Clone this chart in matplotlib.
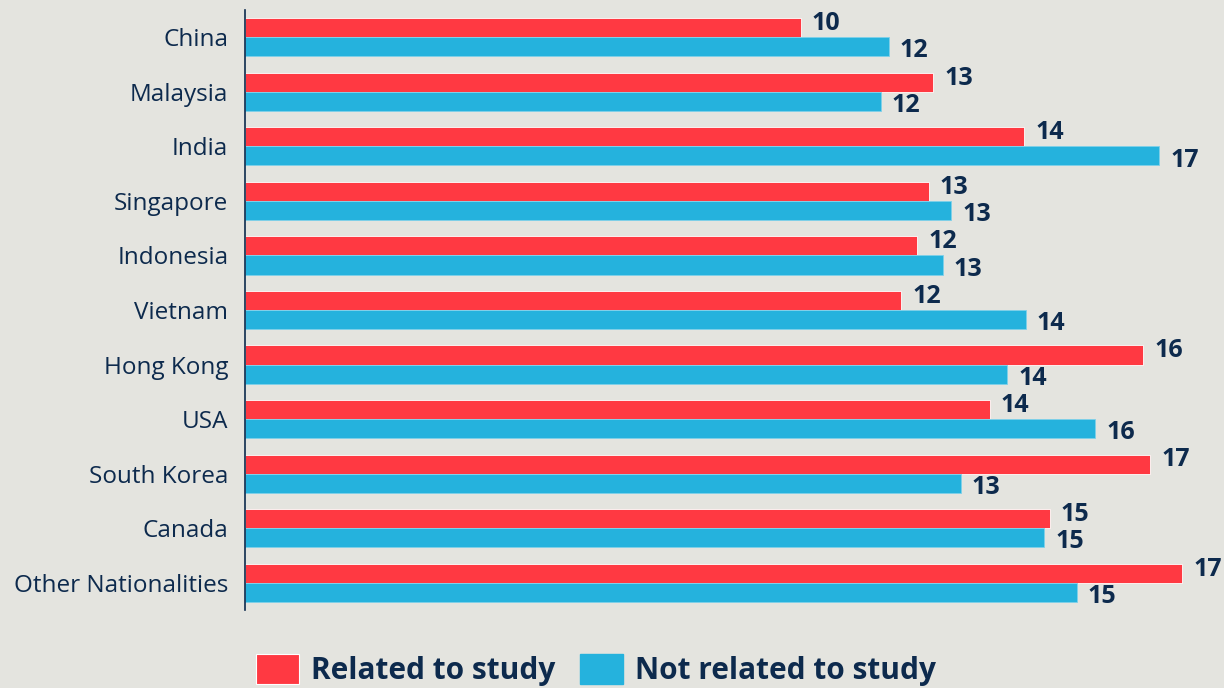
import numpy as np
import matplotlib
matplotlib.use('Agg')
from matplotlib import pyplot as plt
from matplotlib.patches import Patch

countries = ["China", "Malaysia", "India", "Singapore", "Indonesia", "Vietnam",
             "Hong Kong", "USA", "South Korea", "Canada", "Other Nationalities"]
related = [10.18, 12.60, 14.27, 12.52, 12.31, 12.02, 16.45, 13.64, 16.58, 14.74, 17.17]
not_related = [11.79, 11.64, 16.74, 12.93, 12.78, 14.30, 13.96, 15.57, 13.11, 14.64, 15.23]

RED = "#FF3942"
BLUE = "#25B2DD"
NAVY = "#0D2A4D"
BG = "#E4E4DF"

plt.rcParams['font.family'] = ['Open Sans', 'DejaVu Sans']

fig = plt.figure(figsize=(12.24, 6.88), dpi=100, facecolor=BG)
ax = fig.add_axes([245 / 1224, 1 - 610 / 688, 979 / 1224, 600 / 688])
ax.set_facecolor(BG)

y = np.arange(len(countries))
h = 0.35
ax.barh(y - h / 2, related, height=h, color=RED, edgecolor="white", linewidth=0.6)
ax.barh(y + h / 2, not_related, height=h, color=BLUE, edgecolor="#7fd0ea", linewidth=0.6)

# value labels just past the bar ends
for yi, v in zip(y, related):
    ax.annotate(f"{v:.0f}", (v, yi - h / 2), xytext=(8, 3), textcoords="offset points",
                ha="left", va="center", fontsize=18, fontweight="bold", color=NAVY,
                annotation_clip=False)
for yi, v in zip(y, not_related):
    ax.annotate(f"{v:.0f}", (v, yi + h / 2), xytext=(8, -3), textcoords="offset points",
                ha="left", va="center", fontsize=18, fontweight="bold", color=NAVY,
                annotation_clip=False)

ax.set_xlim(0, 979 / 54.6)
ax.set_ylim(len(countries) - 0.5, -0.5)
ax.set_yticks(y)
ax.set_yticklabels(countries, fontsize=17.5, color=NAVY)
ax.tick_params(axis="y", length=0, pad=12)
ax.set_xticks([])
for side in ["top", "right", "bottom"]:
    ax.spines[side].set_visible(False)
ax.spines["left"].set_color(NAVY)
ax.spines["left"].set_linewidth(1.2)

handles = [Patch(facecolor=RED, edgecolor="white", linewidth=0.8, label="Related to study"),
           Patch(facecolor=BLUE, edgecolor=BLUE, label="Not related to study")]
leg = fig.legend(handles=handles, loc="center", bbox_to_anchor=(596 / 1224, 1 - 670 / 688),
                 ncol=2, frameon=False, prop={"size": 21.5, "weight": "bold"},
                 handlelength=1.45, handleheight=1.15, handletextpad=0.42, columnspacing=0.8,
                 borderpad=0)
for t in leg.get_texts():
    t.set_color(NAVY)

fig.savefig("out.png", dpi=100, facecolor=BG)
